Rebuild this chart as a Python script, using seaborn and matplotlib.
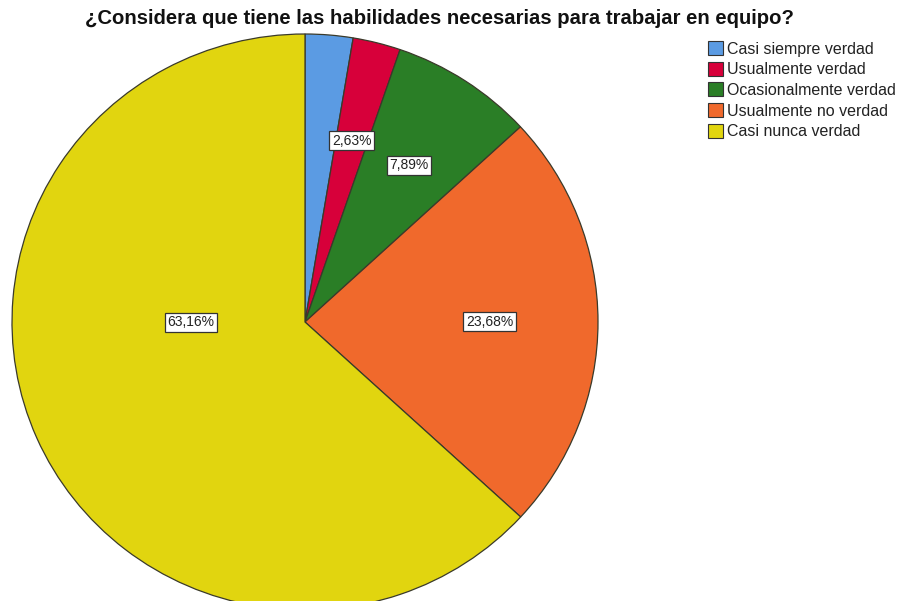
import matplotlib
matplotlib.use("Agg")
import matplotlib.pyplot as plt
from matplotlib.patches import Patch
import numpy as np
import seaborn as sns

categories = ["Casi siempre verdad", "Usualmente verdad", "Ocasionalmente verdad",
              "Usualmente no verdad", "Casi nunca verdad"]
percentages = [2.63, 2.63, 7.89, 23.68, 63.16]
shown_labels = [False, True, True, True, True]
title = "¿Considera que tiene las habilidades necesarias para trabajar en equipo?"

sns.set_theme(style="white")
plt.rcParams["font.family"] = ["Liberation Sans", "DejaVu Sans"]
palette = sns.color_palette(["#5B9BE3", "#D7003A", "#2A7E26", "#F0692C", "#E1D50F"])

W, H = 904, 601
fig = plt.figure(figsize=(W / 100, H / 100), dpi=100)
ax = fig.add_axes([0, 0, 1, 1])

cx, cy, rx, ry = 305, 322, 293, 288
wedges, _ = ax.pie(percentages, colors=palette, startangle=90, counterclock=False,
                   radius=1, center=(0, 0),
                   wedgeprops=dict(edgecolor="#3a3a2a", linewidth=0.9))
ax.set_aspect("auto")
ax.set_xlim(-cx / rx, (W - cx) / rx)
ax.set_ylim(-(H - cy) / ry, cy / ry)
ax.axis("off")

total = sum(percentages)
start = 90.0
for pct, show in zip(percentages, shown_labels):
    span = 360 * pct / total
    mid = np.deg2rad(start - span / 2)
    start -= span
    if not show:
        continue
    if pct > 50:
        # the large slice gets its label on the horizontal through the centre
        x, y = -0.39, 0.0
    else:
        d = 0.65 if pct < 20 else 0.63
        x, y = d * np.cos(mid), d * np.sin(mid)
    ax.text(x, y, f"{pct:.2f}".replace(".", ",") + "%", ha="center", va="center",
            fontsize=10, color="#222222",
            bbox=dict(boxstyle="square,pad=0.18", facecolor="white",
                      edgecolor="#333333", linewidth=0.9))

fig.text(439 / W, 1 - 18 / H, title, ha="center", va="center",
         fontsize=14.6, fontweight="bold", color="#111111")

handles = [Patch(facecolor=c, edgecolor="#333333", linewidth=0.8) for c in palette]
fig.legend(handles, categories, loc="upper left", bbox_to_anchor=(697 / W, 1 - 30 / H),
           frameon=False, fontsize=11.5, handlelength=0.95, handleheight=0.95,
           handletextpad=0.25, labelspacing=0.33, borderpad=0.2,
           labelcolor="#222222")

fig.savefig("out.png", dpi=100)
